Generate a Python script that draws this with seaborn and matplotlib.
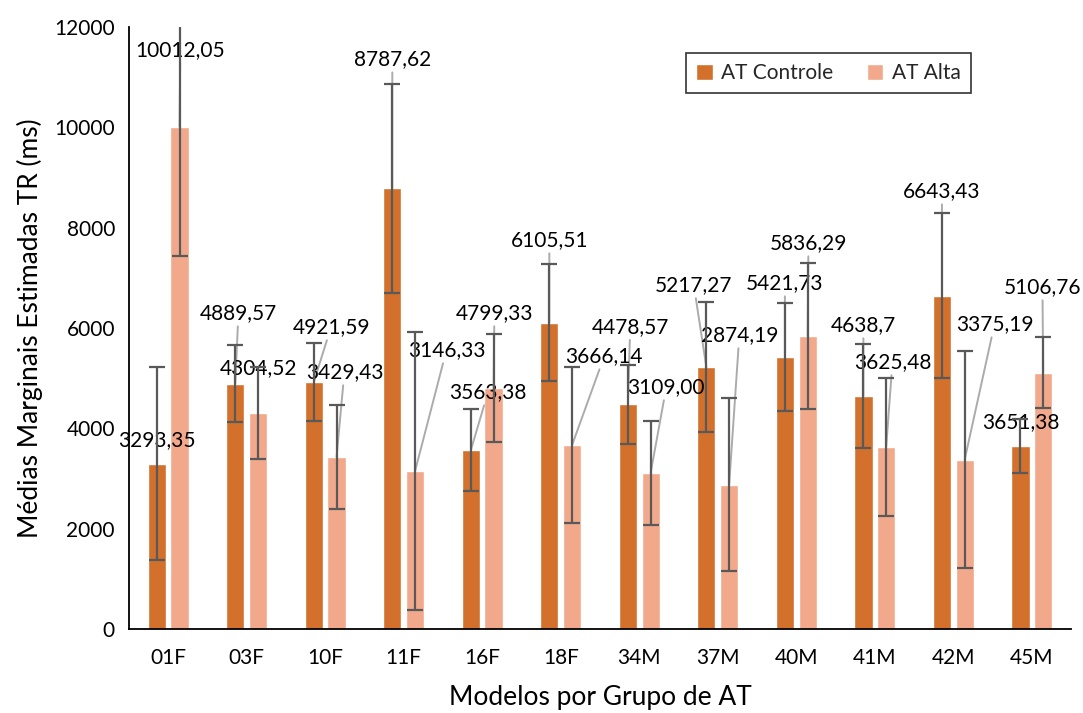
import matplotlib
matplotlib.use("Agg")
import matplotlib.pyplot as plt
import pandas as pd
import seaborn as sns

# --- data -------------------------------------------------------------
modelos = ["01F", "03F", "10F", "11F", "16F", "18F",
           "34M", "37M", "40M", "41M", "42M", "45M"]
grupos = ["AT Controle", "AT Alta"]

controle_labels = ["3293,35", "4889,57", "4921,59", "8787,62", "3563,38", "6105,51",
                   "4478,57", "5217,27", "5421,73", "4638,7", "6643,43", "3651,38"]
alta_labels = ["10012,05", "4304,52", "3429,43", "3146,33", "4799,33", "3666,14",
               "3109,00", "2874,19", "5836,29", "3625,48", "3375,19", "5106,76"]

controle_err = [1930, 765, 770, 2086, 815, 1170, 790, 1300, 1085, 1035, 1640, 540]
alta_err = [2577, 925, 1030, 2770, 1080, 1550, 1040, 1720, 1450, 1370, 2170, 710]

y_ticks = [0, 2000, 4000, 6000, 8000, 10000, 12000]

# data-label placement (offset from bar centre in category units, height in ms)
controle_lab_dx = [0, 0.04, 0.22, 0, 0.22, 0, 0.03, -0.16, 0, 0, 0, 0]
controle_lab_y = [3767, 6298, 6020, 11361, 4724, 7754, 6026, 6857, 6896, 6059, 8730, 4126]
controle_leader = [False, True, True, True, True, True, True, True, True, True, True, False]
alta_lab_dx = [0.01, 0, 0.10, 0.40, 0.01, 0.41, 0.20, 0.13, 0.01, 0.08, 0.38, -0.01]
alta_lab_y = [11541, 5202, 5122, 5561, 6298, 5441, 4824, 5860, 7694, 5322, 6079, 6817]
alta_leader = [True, False, True, True, True, True, True, True, True, True, True, True]


def to_num(s):
    return float(s.replace(",", "."))


controle_vals = [to_num(s) for s in controle_labels]
alta_vals = [to_num(s) for s in alta_labels]

df = pd.DataFrame({
    "Modelo": modelos * 2,
    "Grupo": [grupos[0]] * len(modelos) + [grupos[1]] * len(modelos),
    "TR": controle_vals + alta_vals,
})

# --- style ------------------------------------------------------------
sns.set_theme(style="white")
plt.rcParams["font.family"] = ["Lato", "DejaVu Sans"]

c_controle = "#D2702C"
c_alta = "#F2A98B"
err_col = "#595959"
lead_col = "#ABABAB"
fs = 15

fig = plt.figure(figsize=(10.83, 7.13), dpi=100)
ax = fig.add_axes([0.119, 0.118, 0.870, 0.844])

sns.barplot(data=df, x="Modelo", y="TR", hue="Grupo", hue_order=grupos,
            palette=[c_controle, c_alta], saturation=1, width=0.58, gap=0.2,
            errorbar=None, ax=ax, zorder=2)

ax.set_ylim(0, 12000)
ax.set_xlim(-0.5, len(modelos) - 0.5)
ax.set_yticks(y_ticks)
ax.set_yticklabels([str(t) for t in y_ticks])
ax.tick_params(axis="both", length=0, labelsize=fs, colors="black")
ax.tick_params(axis="x", pad=14)
ax.tick_params(axis="y", pad=10)

for side in ["top", "right"]:
    ax.spines[side].set_visible(False)
for side in ["left", "bottom"]:
    ax.spines[side].set_color("black")
    ax.spines[side].set_linewidth(1.3)

ax.set_xlabel("Modelos por Grupo de AT", fontsize=19, color="black", labelpad=12)
ax.set_ylabel("Médias Marginais Estimadas TR (ms)", fontsize=19, color="black", labelpad=8)

series = [
    (controle_vals, controle_err, controle_labels, controle_lab_dx, controle_lab_y, controle_leader),
    (alta_vals, alta_err, alta_labels, alta_lab_dx, alta_lab_y, alta_leader),
]

for container, (vals, errs, labs, dxs, ys, leads) in zip(ax.containers, series):
    xs = [b.get_x() + b.get_width() / 2 for b in container]
    ax.errorbar(xs, vals, yerr=errs, fmt="none", ecolor=err_col, elinewidth=1.6,
                capsize=6, capthick=1.6, zorder=4)
    for x, v, lab, dx, ly, lead in zip(xs, vals, labs, dxs, ys, leads):
        props = None
        if lead:
            props = dict(arrowstyle="-", color=lead_col, lw=1.4, shrinkA=0, shrinkB=0)
        ax.annotate(lab, xy=(x, v), xytext=(x + dx, ly), textcoords="data",
                    ha="center", va="center", fontsize=fs, color="black",
                    arrowprops=props, zorder=3, annotation_clip=False)

leg = ax.legend(loc="upper left", bbox_to_anchor=(0.580, 0.975), ncol=2,
                fontsize=fs, frameon=True, fancybox=False, edgecolor="black",
                handlelength=0.8, handleheight=0.8, columnspacing=1.6,
                handletextpad=0.4, borderpad=0.5)
leg.get_frame().set_linewidth(1.2)
leg.set_title(None)

fig.savefig("out.png", dpi=100)
